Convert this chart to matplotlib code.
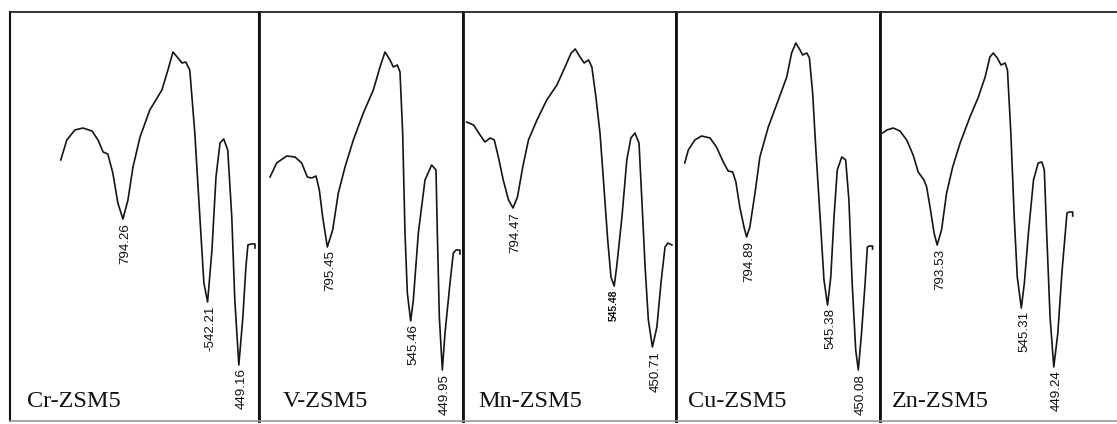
import numpy as np
import matplotlib
matplotlib.use("Agg")
import matplotlib.pyplot as plt

# --- DATA ---
# wavenumber (cm-1) and transmittance (a.u.) per sample
cr_wn = [979, 961, 937, 913, 886, 868, 853, 839, 824, 809, 794, 779, 764, 743, 714, 678, 660, 645,
         630, 618, 607, 595, 580, 565, 553, 542, 529, 517, 505, 494, 482, 470, 461, 449, 437, 428,
         422, 413, 401, 401]
cr_t = [264, 284, 294, 296, 293, 284, 272, 270, 251, 221, 205, 224, 257, 287, 314, 334, 354, 372,
        366, 361, 362, 354, 291, 207, 141, 122, 174, 247, 281, 285, 274, 207, 124, 59, 107, 157,
        179, 180, 180, 176]

v_wn = [967, 947, 917, 892, 872, 855, 842, 829, 819, 809, 795, 779, 762, 742, 717, 687, 657, 637,
        622, 607, 597, 585, 577, 569, 562, 555, 545, 537, 522, 502, 482, 469, 465, 459, 450, 442,
        427, 417, 409, 397, 397]
v_t = [247, 261, 268, 267, 261, 247, 246, 248, 234, 207, 177, 194, 231, 257, 284, 311, 334, 357,
       372, 364, 357, 359, 352, 291, 191, 131, 103, 124, 191, 244, 259, 254, 191, 107, 54, 91,
       141, 171, 174, 174, 170]

mn_wn = [908, 891, 875, 863, 850, 840, 830, 818, 805, 794, 783, 770, 756, 735, 711, 686, 666, 651,
         641, 629, 619, 608, 600, 590, 580, 571, 561, 553, 545, 539, 526, 514, 504, 494, 484, 477,
         469, 461, 451, 440, 430, 420, 413, 403]
mn_t = [302, 299, 289, 282, 286, 284, 267, 244, 224, 216, 227, 257, 284, 304, 324, 339, 357, 371,
        375, 367, 361, 364, 357, 327, 291, 241, 184, 147, 138, 157, 207, 264, 286, 291, 281, 224,
        157, 104, 77, 97, 141, 177, 181, 179]

cu_wn = [986, 975, 955, 934, 908, 888, 867, 852, 838, 828, 816, 803, 795, 785, 769, 754, 728, 697,
         671, 656, 643, 630, 622, 609, 601, 591, 581, 568, 556, 545, 535, 525, 515, 501, 489, 479,
         469, 458, 450, 440, 429, 422, 416, 406, 406]
cu_t = [261, 274, 284, 288, 286, 277, 262, 253, 252, 242, 217, 197, 187, 197, 231, 267, 297, 324,
        347, 371, 381, 374, 369, 371, 366, 331, 274, 207, 144, 119, 147, 207, 254, 267, 264, 224,
        141, 74, 54, 91, 141, 177, 178, 178, 175]

zn_wn = [955, 943, 924, 904, 884, 865, 850, 833, 825, 815, 803, 794, 781, 766, 748, 726, 697, 672,
         652, 638, 628, 616, 605, 593, 586, 576, 566, 557, 545, 536, 524, 509, 495, 484, 477, 470,
         460, 449, 437, 425, 415, 410, 403, 393, 393]
zn_t = [291, 294, 296, 293, 284, 269, 252, 244, 237, 217, 191, 179, 194, 231, 257, 281, 307, 327,
        347, 367, 371, 366, 359, 361, 354, 291, 207, 147, 116, 141, 191, 244, 261, 262, 254, 191,
        107, 57, 91, 151, 191, 211, 212, 212, 208]

samples = ["Cr-ZSM5", "V-ZSM5", "Mn-ZSM5", "Cu-ZSM5", "Zn-ZSM5"]
peak_values = [
    [794.26, 542.21, 449.16],
    [795.45, 545.46, 449.95],
    [794.47, 545.48, 450.71],
    [794.89, 545.38, 450.08],
    [793.53, 545.31, 449.24],
]
peak_labels = [
    ["794.26", "-542.21", "449.16"],
    ["795.45", "545.46", "449.95"],
    ["794.47", "545.48", "450.71"],
    ["794.89", "545.38", "450.08"],
    ["793.53", "545.31", "449.24"],
]

# --- LAYOUT (pixel frame of the scanned panels) ---
W, H = 1117, 424
panel_px = [(10, 259), (259, 463), (463, 676), (676, 880), (880, 1117)]
panel_xlim = [(1130, 389), (1000, 388), (917, 393), (1013, 383), (963, 262)]
name_x = [0.068, 0.118, 0.07, 0.059, 0.05]
TOP, BOTTOM = 12, 421

fig = plt.figure(figsize=(W / 100, H / 100), dpi=100)
series = [(cr_wn, cr_t), (v_wn, v_t), (mn_wn, mn_t), (cu_wn, cu_t), (zn_wn, zn_t)]

for i, ((x0, x1), (wn, t)) in enumerate(zip(panel_px, series)):
    ax = fig.add_axes([x0 / W, (H - BOTTOM) / H, (x1 - x0) / W, (BOTTOM - TOP) / H])
    ax.plot(wn, t, color="#151515", lw=1.2, solid_joinstyle="round")
    ax.set_xlim(*panel_xlim[i])
    ax.set_ylim(H - BOTTOM, H - TOP)
    ax.set_xticks([])
    ax.set_yticks([])
    for side in ["left", "right"]:
        ax.spines[side].set_linewidth(2.0 if i else 1.5)
        ax.spines[side].set_color("#111111")
    ax.spines["right"].set_visible(i < 4)
    ax.spines["top"].set_linewidth(1.3)
    ax.spines["top"].set_color("#222222")
    ax.spines["bottom"].set_linewidth(1.2)
    ax.spines["bottom"].set_color("#9a9a9a")

    # peak labels below each minimum
    order = np.argsort(wn)
    for val, lab in zip(peak_values[i], peak_labels[i]):
        ymin = np.interp(val, np.array(wn)[order], np.array(t)[order])
        if lab == "545.48":
            ax.annotate(lab, (val, ymin), xytext=(0, -3), textcoords="offset points",
                        rotation=90, ha="center", va="top", fontsize=7.4,
                        fontweight="bold", family="Liberation Sans", color="#111111")
        else:
            ax.annotate(lab, (val, ymin), xytext=(2, -3), textcoords="offset points",
                        rotation=90, ha="center", va="top", fontsize=9.6,
                        family="Liberation Sans", color="#111111")

    ax.text(name_x[i], 0.034, samples[i], transform=ax.transAxes, ha="left",
            va="baseline", fontsize=17.5, family="Liberation Serif", color="#111111")

fig.savefig("out.png", dpi=100)
